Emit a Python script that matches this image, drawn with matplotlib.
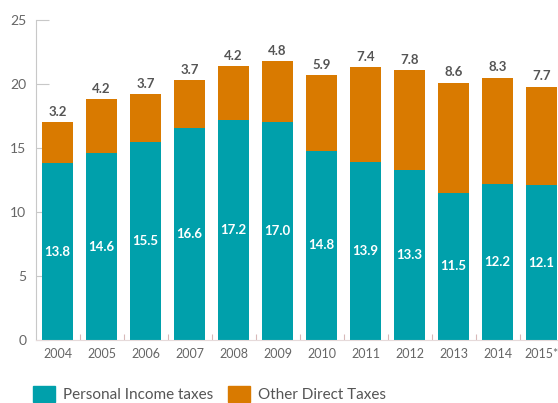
import numpy as np
import matplotlib.pyplot as plt
from matplotlib.patches import Patch

years = ['2004', '2005', '2006', '2007', '2008', '2009', '2010', '2011',
         '2012', '2013', '2014', '2015*']
personal = [13.8, 14.6, 15.5, 16.6, 17.2, 17.0, 14.8, 13.9, 13.3, 11.5, 12.2, 12.1]
other = [3.2, 4.2, 3.7, 3.7, 4.2, 4.8, 5.9, 7.4, 7.8, 8.6, 8.3, 7.7]

teal = '#00a0ab'
orange = '#d97a00'

plt.rcParams['font.family'] = ['Lato', 'DejaVu Sans']

fig = plt.figure(figsize=(5.58, 4.03), dpi=100)
ax = fig.add_axes([36 / 558, 63 / 403, 522 / 558, 320 / 403])

x = np.arange(len(years))
w = 0.70
ax.bar(x, personal, w, color=teal, zorder=2)
ax.bar(x, other, w, bottom=personal, color=orange, zorder=2)

for i in range(len(years)):
    ax.text(x[i], personal[i] / 2, '%.1f' % personal[i], color='white',
            fontsize=9.5, fontweight='bold', ha='center', va='center')
    ax.annotate('%.1f' % other[i], (x[i], personal[i] + other[i]),
                xytext=(0, 4.5), textcoords='offset points', ha='center',
                va='baseline', color='#555555', fontsize=9.5, fontweight='bold')

ax.set_xlim(-0.49, 11.375)
ax.set_ylim(0, 25)
ax.set_yticks([0, 5, 10, 15, 20, 25])
ax.set_xticks(x)
ax.set_xticklabels(years)
ax.set_xticks(x[:-1] + 0.5, minor=True)

for s in ['top', 'right']:
    ax.spines[s].set_visible(False)
ax.spines['left'].set_color('#c8c8c8')
ax.spines['bottom'].set_color('#e6dada')
ax.tick_params(axis='y', direction='in', length=9.5, width=0.8, color='#c8c8c8',
               labelsize=10, labelcolor='#666666', pad=7)
ax.tick_params(axis='x', which='major', length=0, labelsize=9,
               labelcolor='#666666', pad=6)
ax.tick_params(axis='x', which='minor', direction='in', length=4.5, width=0.8,
               color='#d8b8b8')

handles = [Patch(color=teal, label='Personal Income taxes'),
           Patch(color=orange, label='Other Direct Taxes')]
fig.legend(handles=handles, loc='upper left', bbox_to_anchor=(33 / 558, 1 - 386 / 403),
           ncol=2, frameon=False, fontsize=11, handlelength=1.45,
           handleheight=1.2, handletextpad=0.5, columnspacing=1.0,
           borderpad=0, borderaxespad=0, labelcolor='#555555')

plt.savefig('out.png', dpi=100)
